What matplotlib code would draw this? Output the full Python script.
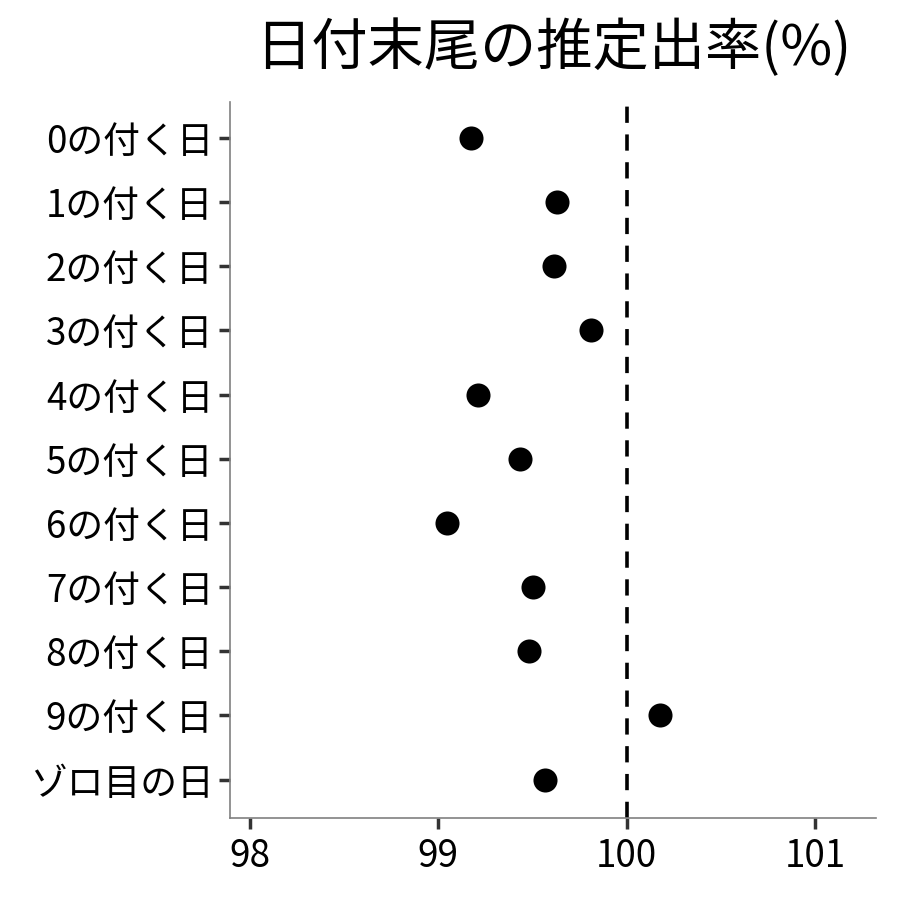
import matplotlib
matplotlib.use('Agg')
import matplotlib.pyplot as plt

plt.rcParams['font.family'] = ['Noto Sans CJK JP', 'DejaVu Sans']

# カテゴリと推定出率
labels = ['0の付く日', '1の付く日', '2の付く日', '3の付く日', '4の付く日',
          '5の付く日', '6の付く日', '7の付く日', '8の付く日', '9の付く日', 'ゾロ目の日']
rates = [99.176, 99.628, 99.612, 99.809, 99.213, 99.436, 99.048, 99.505, 99.479, 100.176, 99.564]
xticks = [98, 99, 100, 101]

fig = plt.figure(figsize=(9, 9), dpi=100)
ax = fig.add_axes([230 / 900, 1 - 818 / 900, (876 - 230) / 900, (818 - 102) / 900])

ypos = list(range(len(labels)))
ax.scatter(rates, ypos, s=300, color='black', zorder=3, linewidths=0)
ax.axvline(100, color='black', linewidth=2.6, linestyle=(0, (4.5, 3.2)), zorder=2)

ax.set_yticks(ypos)
ax.set_yticklabels(labels)
ax.set_ylim(len(labels) - 0.4, -0.56)
ax.set_xticks(xticks)
ax.set_xticklabels([str(v) for v in xticks])
ax.set_xlim(97.894, 101.324)

for side in ['top', 'right']:
    ax.spines[side].set_visible(False)
for side in ['left', 'bottom']:
    ax.spines[side].set_color('#808080')
    ax.spines[side].set_linewidth(1.2)

ax.tick_params(axis='both', length=8, width=2.5, color='#333333', labelsize=26.5,
               labelcolor='black', pad=4)
ax.tick_params(axis='x', pad=6)

fig.suptitle('日付末尾の推定出率(%)', x=553 / 900, y=0.978, va='top', fontsize=40.5)

fig.savefig('out.png', dpi=100)
